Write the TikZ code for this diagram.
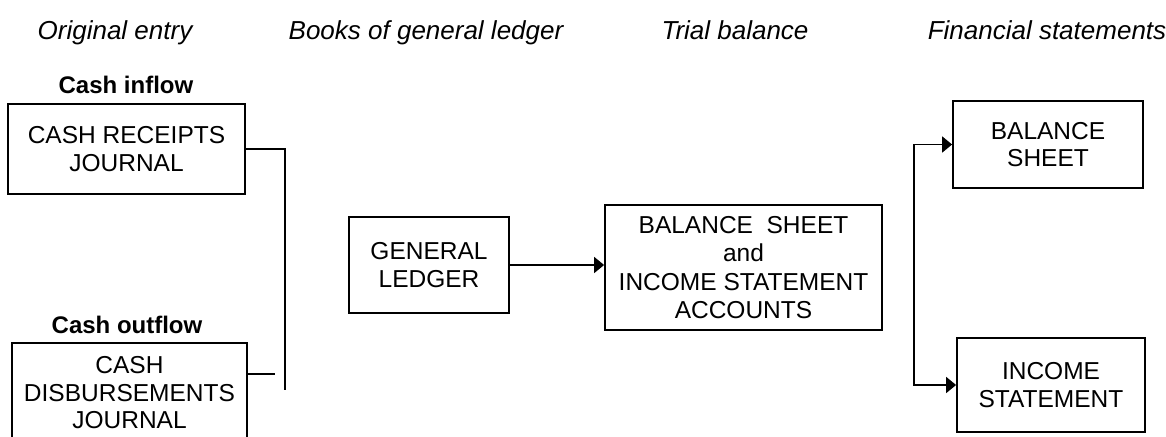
\documentclass[tikz,border=0pt]{standalone}
\usepackage{fontspec}
\setmainfont{Liberation Sans}
\usetikzlibrary{arrows.meta}
\tikzset{
  box/.style={draw, line width=1.8pt, align=center, inner sep=0pt, font=\fontsize{24.5}{27.5}\selectfont},
  head/.style={font=\fontsize{26}{30}\selectfont\itshape, anchor=base},
  lab/.style={font=\fontsize{24}{28}\selectfont\bfseries, anchor=base},
  conn/.style={line width=1.8pt},
  tip/.style={Triangle[length=10pt,width=16pt]},
  arr/.style={line width=1.8pt, -{Triangle[length=10pt,width=16pt]}},
  darr/.style={line width=1.8pt, {Triangle[length=10pt,width=16pt]}-{Triangle[length=10pt,width=16pt]}}
}
\begin{document}
\begin{tikzpicture}[x=1pt,y=-1pt]
\useasboundingbox (0,0) rectangle (1166,436);
% headers
\node[head] (h1) at (115,40) {Original entry};
\node[head] (h2) at (426,40) {Books of general ledger};
\node[head] (h3) at (735,40) {Trial balance};
\node[head] (h4) at (1047,40) {Financial statements};
% labels
\node[lab] (l1) at (126,93) {Cash inflow};
\node[lab] (l2) at (127,333) {Cash outflow};
% boxes
\node[box, minimum width=237pt, minimum height=90pt] (rec) at (126.5,149) {CASH RECEIPTS\\JOURNAL};
\node[box, minimum width=235pt, minimum height=100pt] (dis) at (129.5,393) {CASH\\DISBURSEMENTS\\JOURNAL};
\node[box, minimum width=160pt, minimum height=96pt] (gl) at (429,265) {GENERAL\\LEDGER};
\node[box, minimum width=277pt, minimum height=125pt, font=\fontsize{24.5}{28.5}\selectfont] (tb) at (743.5,267.5) {BALANCE\ \ SHEET\\and\\INCOME STATEMENT\\ACCOUNTS};
\node[box, minimum width=190pt, minimum height=87pt] (bs) at (1048,144.5) {BALANCE\\SHEET};
\node[box, minimum width=188pt, minimum height=94pt] (is) at (1051,385) {INCOME\\STATEMENT};
% connectors
\coordinate (j1) at (285,390);
\coordinate (j2) at (275,374);
\draw[conn] (rec.east) -| (j1);
\draw[conn] (dis.east |- j2) -- (j2);
\draw[arr] (gl.east) -- (gl.east -| tb.west);
\coordinate (ft) at (914,144.5);
\coordinate (fb) at (914,385);
\draw[darr] (bs.west) -- (ft) -- (fb) -- (is.west);
\end{tikzpicture}
\end{document}
